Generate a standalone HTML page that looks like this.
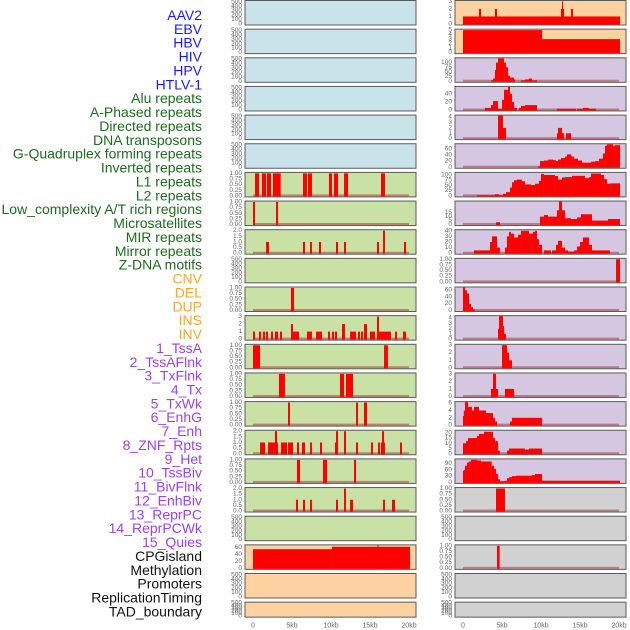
<!DOCTYPE html>
<html><head><meta charset="utf-8"><style>
body{margin:0;background:#fff;width:630px;height:630px;overflow:hidden}
svg{display:block}
</style></head><body>
<svg id="chart" width="630" height="630" xmlns="http://www.w3.org/2000/svg" font-family="Liberation Sans, sans-serif">
<g id="labels"></g>
<g id="panels"></g>
<g id="xaxes"></g>
</svg>
<script>
const trackNames=["AAV2","EBV","HBV","HIV","HPV","HTLV-1","Alu repeats","A-Phased repeats","Directed repeats","DNA transposons","G-Quadruplex forming repeats","Inverted repeats","L1 repeats","L2 repeats","Low_complexity A/T rich regions","Microsatellites","MIR repeats","Mirror repeats","Z-DNA motifs","CNV","DEL","DUP","INS","INV","1_TssA","2_TssAFlnk","3_TxFlnk","4_Tx","5_TxWk","6_EnhG","7_Enh","8_ZNF_Rpts","9_Het","10_TssBiv","11_BivFlnk","12_EnhBiv","13_ReprPC","14_ReprPCWk","15_Quies","CPGisland","Methylation","Promoters","ReplicationTiming","TAD_boundary"];
const trackGroups=[0,0,0,0,0,0,1,1,1,1,1,1,1,1,1,1,1,1,1,2,2,2,2,2,3,3,3,3,3,3,3,3,3,3,3,3,3,3,3,4,4,4,4,4];
const groupColors=["#1a1aff","#1b6e1b","#ffa520","#a040f0","#111111"];
const xTicks=[0,5000,10000,15000,20000];
const xTickLabels=["0","5kb","10kb","15kb","20kb"];
const bgLeft=["#c9e3eb","#c9e3eb","#c9e3eb","#c9e3eb","#c9e3eb","#c9e3eb","#c9e1a5","#c9e1a5","#c9e1a5","#c9e1a5","#c9e1a5","#c9e1a5","#c9e1a5","#c9e1a5","#c9e1a5","#c9e1a5","#c9e1a5","#c9e1a5","#c9e1a5","#fed1a0","#fed1a0","#fed1a0"];
const bgRight=["#fed1a0","#fed1a0","#d5c6e1","#d5c6e1","#d5c6e1","#d5c6e1","#d5c6e1","#d5c6e1","#d5c6e1","#d5c6e1","#d5c6e1","#d5c6e1","#d5c6e1","#d5c6e1","#d5c6e1","#d5c6e1","#d5c6e1","#d1d1d1","#d1d1d1","#d1d1d1","#d1d1d1","#d1d1d1"];
const E=[0,100,200,300,400,500],P=[0,0.25,0.5,0.75,1],T2=[0,0.5,1,1.5,2];
const yMaxLeft=[520,520,520,520,520,520,1.02,1.02,2.04,520,1.02,3.05,1.02,1.02,1.02,2.04,1.02,2.04,520,66,520,520];
const yTicksLeft=[E,E,E,E,E,E,P,P,T2,E,P,[0,1,2,3],P,P,P,T2,P,T2,E,[0,20,40,60],E,E];
const segsLeft=[[],[],[],[],[],[],
[[0.26,0.77,1],[1.15,1.67,1],[1.79,2.31,1],[2.56,3.55,1],[6.41,6.92,1],[7.05,7.56,1],[9.74,10.13,1],[10.38,10.9,1],[11.67,12.18,1],[16.41,16.92,1]],
[[0,0.26,1],[2.95,3.21,1]],
[[1.67,2.05,1],[6.41,6.67,1],[7.31,7.56,1],[8.46,8.72,1],[10.64,10.9,1],[11.67,11.92,1],[15.9,16.15,1],[16.67,16.92,2],[19.36,19.62,1]],
[],
[[4.87,5.26,1]],
[[0,0.26,1],[0.77,1.03,1],[1.28,1.54,1],[1.67,1.92,1],[2.31,2.56,1],[2.82,3.21,1],[3.46,3.72,1],[4.87,5.13,2],[5.13,5.9,1],[6.92,7.56,1],[8.08,8.85,1],[9.62,9.87,1],[10.13,10.38,1],[10.51,10.77,1],[11.41,11.79,2],[12.44,13.21,1],[13.46,13.72,1],[13.85,14.1,1],[14.23,14.62,2],[15.0,15.64,1],[15.9,16.15,3],[16.15,17.69,1],[18.21,18.46,1],[19.23,19.62,1]],
[[0,0.9,1],[16.8,17.3,1]],
[[3.33,4.1,1],[11.15,11.67,1],[11.92,12.82,1]],
[[4.49,4.74,1],[13.21,13.46,1],[14.23,14.62,1]],
[[0.9,1.54,1],[1.92,3.21,1],[2.82,3.08,2],[3.59,4.36,1],[4.49,5.13,1],[5.64,5.9,1],[6.28,6.67,1],[7.31,7.56,1],[8.59,8.85,1],[10.51,10.9,1],[10.64,10.9,2],[11.67,11.92,2],[13.21,13.46,1],[15.13,15.38,1],[16.03,16.28,1],[16.41,16.92,1],[16.54,16.8,2],[18.85,19.1,1]],
[[5.64,6.03,1],[8.97,9.49,1],[12.95,13.21,1]],
[[5.51,5.77,1],[6.41,6.67,1],[7.31,7.56,1],[10.64,10.9,1],[11.67,11.92,2],[12.44,12.82,1],[16.67,16.92,1],[17.82,18.21,1]],
[],
[[0,10.13,55],[10.13,20.13,62],[15.95,16.1,66]],
[],[]];
const yMaxRight=[3.05,5.1,123,57,4.3,75,110,29,41,1.02,68,4.4,3.05,3.05,6.3,22,110,1.02,520,1.02,520,520];
const yTicksRight=[[0,1,2,3],[0,1,2,3,4,5],[0,25,50,75,100],[0,20,40],[0,1,2,3,4],[0,20,40,60],[0,25,50,75,100],[0,5,10,15],[0,10,20,30,40],P,[0,20,40,60],[0,1,2,3,4],[0,1,2,3],[0,1,2,3],[0,2,4,6],[0,5,10,15,20],[0,30,60,90],P,E,P,E,E];
const segsRight=[
[[0,20.13,1],[2.05,2.31,2],[4.1,4.36,2],[12.56,12.95,2],[12.69,12.82,3],[13.85,14.1,2]],
[[0,10.13,5],[10.13,20.13,3]],
[[3.59,3.85,5],[3.85,4.1,15],[4.1,4.23,60],[4.23,4.49,100],[4.49,5.26,123],[5.26,5.51,100],[5.51,5.77,75],[5.77,6.03,30],[6.03,6.54,20],[6.54,6.67,10],[7.44,7.95,5],[7.95,8.46,10],[8.46,8.85,15],[8.85,9.49,5]],
[[2.82,3.59,5],[3.59,3.85,12],[3.85,4.49,22],[4.49,5.0,3],[5.0,5.26,25],[5.26,5.77,50],[5.77,6.03,57],[6.03,6.28,40],[6.28,6.54,20],[6.54,6.92,5],[7.18,7.44,5],[7.44,7.95,10],[7.95,9.49,12],[12.05,14.49,3],[14.62,15.38,3],[15.38,16.15,5],[16.15,17.05,3]],
[[4.49,5.13,4.3],[5.13,5.51,2],[12.05,12.95,1],[12.18,12.69,2],[13.21,13.85,1]],
[[9.62,9.87,3],[9.87,10.38,20],[10.38,10.9,22],[10.9,11.54,25],[11.54,11.92,23],[11.92,12.18,20],[12.18,12.56,25],[12.56,13.08,30],[13.08,13.33,35],[13.33,13.85,42],[13.85,14.23,35],[14.23,14.74,28],[14.74,15.26,22],[15.26,16.41,15],[16.41,16.92,18],[16.92,17.44,20],[17.44,17.95,28],[17.95,18.21,45],[18.21,18.46,70],[18.46,19.23,75],[19.23,19.49,70],[19.49,20.13,72]],
[[1.79,4.1,3],[4.1,4.62,8],[4.62,5.13,3],[5.13,5.51,10],[5.51,6.03,18],[6.03,6.28,40],[6.28,6.54,65],[6.54,6.92,75],[6.92,7.56,78],[7.56,7.95,70],[7.95,8.72,55],[8.72,9.23,52],[9.23,9.74,58],[9.74,10.0,72],[10.0,10.38,105],[10.38,11.79,100],[11.79,12.18,95],[12.18,12.69,78],[12.69,13.08,88],[13.08,13.97,90],[13.97,15.64,96],[15.64,16.15,85],[16.15,16.41,90],[16.41,17.69,107],[17.69,18.08,100],[18.08,18.46,80],[18.46,18.85,58],[18.85,20.13,60]],
[[4.23,4.74,3],[9.87,10.38,10],[10.38,10.9,12],[10.9,12.05,10],[12.05,12.31,18],[12.31,12.69,29],[12.69,13.08,18],[13.08,13.85,8],[13.85,14.62,7],[14.62,15.13,9],[15.13,16.54,13],[16.54,18.59,5],[18.59,20.13,7]],
[[1.41,3.46,5],[3.46,3.72,20],[3.72,4.36,30],[4.36,4.74,10],[5.38,5.64,10],[5.64,5.9,30],[5.9,6.15,38],[6.15,6.54,35],[6.54,7.05,28],[7.05,7.44,33],[7.44,8.46,40],[8.46,8.97,35],[8.97,9.23,38],[9.23,9.49,40],[9.49,9.74,25],[9.74,10.13,15],[10.38,11.28,5],[11.41,11.92,5],[11.92,12.18,15],[12.18,12.69,22],[12.69,13.08,10],[13.08,13.46,5],[13.46,14.23,3],[14.23,14.62,5],[14.62,15.0,12],[15.0,15.38,20],[15.38,16.15,28],[16.15,16.54,15],[16.54,18.85,5]],
[[19.62,20.13,1]],
[[0,0.26,68],[0.26,0.51,60],[0.51,0.77,50],[0.77,1.03,20],[1.03,1.28,10],[1.28,1.54,3]],
[[4.49,4.62,2],[4.62,5.13,4.4],[5.13,5.26,2.5],[5.26,5.51,1]],
[[5.0,5.64,3],[5.64,5.9,2],[5.9,6.28,1]],
[[3.59,3.85,1],[3.85,4.23,3],[4.23,4.49,1],[5.38,6.54,1]],
[[0,0.1,2.5],[0.1,0.26,4],[0.26,0.64,6.3],[0.64,1.15,5],[1.15,1.41,4],[1.41,2.05,5],[2.05,2.95,4],[2.95,3.85,3.3],[3.85,4.1,2],[4.1,4.36,1],[6.03,6.28,1],[6.28,10.13,2]],
[[0,0.38,10],[0.38,0.64,12],[0.64,1.79,15],[1.79,2.05,17],[2.05,2.69,19],[2.69,3.85,21],[3.85,4.1,15],[4.1,4.49,12],[4.49,4.74,3],[5.64,5.9,3],[5.9,7.95,5],[7.95,8.46,4],[8.46,10.13,5]],
[[0,0.1,55],[0.1,0.26,60],[0.26,0.51,80],[0.51,0.77,95],[0.77,1.03,100],[1.03,1.79,108],[1.79,2.31,105],[2.31,3.68,100],[3.68,3.98,80],[3.98,4.23,65],[4.23,4.49,40],[4.49,4.74,15],[4.74,5.38,5],[5.38,5.64,8],[5.64,5.9,20],[5.9,6.28,25],[6.28,6.79,30],[6.79,8.85,32],[8.85,9.23,35],[9.23,10.13,40],[10.13,20.13,8]],
[[4.23,5.38,1]],
[],
[[4.36,4.7,1]],
[],[]];

const NS="http://www.w3.org/2000/svg";
function mk(tag,attrs,parent){const e=document.createElementNS(NS,tag);for(const k in attrs)e.setAttribute(k,attrs[k]);parent.appendChild(e);return e;}
const labelsG=document.getElementById('labels'),panelsG=document.getElementById('panels'),axG=document.getElementById('xaxes');

trackNames.forEach((n,i)=>{
  const t=mk('text',{x:202,y:15+i*13.87,'text-anchor':'end','dominant-baseline':'central','font-size':'14px',fill:groupColors[trackGroups[i]]},labelsG);
  
  
  t.textContent=n;
});

const cols=[{x0:245,x1:416,zero:253,bg:bgLeft,ym:yMaxLeft,yt:yTicksLeft,segs:segsLeft,name:'left'},
            {x0:455,x1:626,zero:463,bg:bgRight,ym:yMaxRight,yt:yTicksRight,segs:segsRight,name:'right'}];
const pxPerKb=7.8;
function fmt(v,ym){ if(ym<1.5) return v.toFixed(2); if(ym<2.5) return v.toFixed(1); return String(v);}
cols.forEach(c=>{
  const xs=kb=>c.zero+kb*pxPerKb;
  for(let i=0;i<22;i++){
    const top=0.5+i*28.65, h=(i===21?15:24.5), bot=top+h;
    const g=mk('g',{},panelsG);
    
    
    const r=mk('rect',{x:c.x0,y:top,width:c.x1-c.x0,height:h,fill:c.bg[i],stroke:'#5a5a5a','stroke-width':1},g);
    
    
    const ym=c.ym[i];
    const ys=v=>bot-1-(v/ym)*(h-1.5);
    c.yt[i].forEach(v=>{
      const t=mk('text',{x:c.x0-3,y:ys(v),'text-anchor':'end','dominant-baseline':'central','font-size':'6.5px',fill:'#666'},g);
      
      
      t.textContent=fmt(v,ym);
    });
    const segs=c.segs[i];
    if(segs.length){
      const bl=mk('line',{x1:xs(0),x2:xs(20),y1:bot-1.5,y2:bot-1.5,stroke:'rgba(170,60,60,0.55)','stroke-width':2},g);
      
      
    }
    segs.forEach(s=>{
      const y=ys(s[2]);
      const b=mk('rect',{x:xs(s[0]),y:y,width:Math.max(1,xs(s[1])-xs(s[0])),height:bot-0.5-y,fill:'#ff0000'},g);
      
      
    });
  }
  xTicks.forEach((v,j)=>{
    const t=mk('text',{x:xs(v/1000),y:626,'text-anchor':'middle','dominant-baseline':'central','font-size':'7px',fill:'#666'},axG);
    
    
    t.textContent=xTickLabels[j];
  });
});
</script>
</body></html>
